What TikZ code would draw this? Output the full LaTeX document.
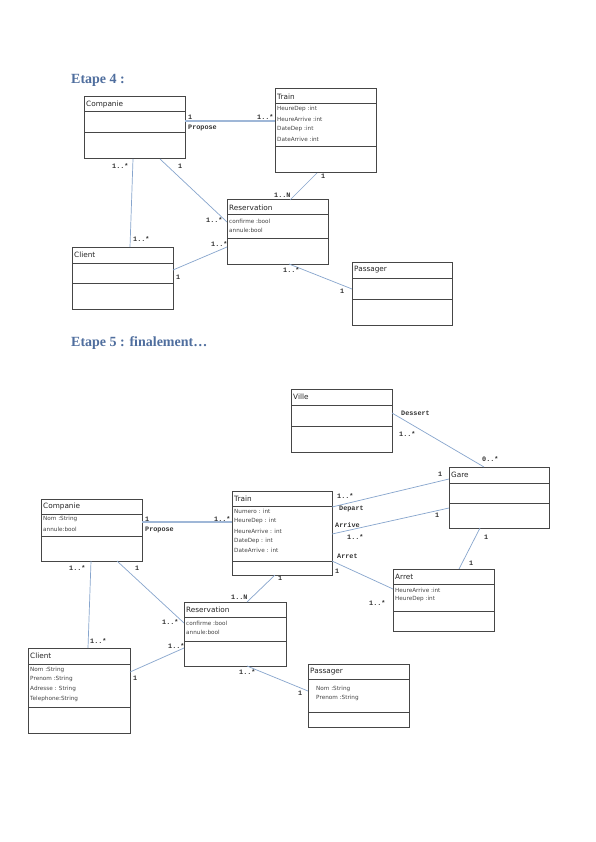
\documentclass[tikz,border=0pt]{standalone}
\usepackage{fontspec}
\setmainfont{DejaVu Sans}
\newfontfamily\titlefont{Liberation Serif}
\newfontfamily\clsfont{DejaVu Sans}
\newfontfamily\multfont{Liberation Mono}
\definecolor{titleblue}{RGB}{79,110,158}
\definecolor{assocblue}{RGB}{135,165,205}
\definecolor{boxgray}{RGB}{70,70,70}
\definecolor{attrgray}{RGB}{70,70,70}
\tikzset{
  clsbox/.style={draw=boxgray, line width=1pt, inner sep=0pt, outer sep=0pt},
  clsline/.style={draw=boxgray, line width=1pt},
  clsname/.style={anchor=west, inner sep=0pt, font=\clsfont\fontsize{7.3}{8}\selectfont, text=black!85},
  attr/.style={anchor=west, inner sep=0pt, font=\clsfont\fontsize{5.7}{6}\selectfont, text=attrgray},
  mult/.style={anchor=west, inner sep=0pt, font=\multfont\bfseries\fontsize{6.8}{7}\selectfont, text=black!80},
  assoc/.style={draw=assocblue, line width=0.7pt},
  assocthick/.style={draw=assocblue!80, line width=1.4pt},
  heading/.style={anchor=base west, inner sep=0pt, font=\titlefont\bfseries\fontsize{14}{16}\selectfont, text=titleblue}
}
\newcommand\umlbox[8]{%
  \pgfmathsetmacro\bw{#4-#2}\pgfmathsetmacro\bh{#5-#3}%
  \node[clsbox, minimum width=\bw pt, minimum height=\bh pt, anchor=north west] (#1) at (#2,#3) {};
  \draw[clsline] (#2,#6) -- (#4,#6);
  \draw[clsline] (#2,#7) -- (#4,#7);
  \node[clsname] (#1-name) at (#2+2,{(#3+#6)/2}) {#8};
}
\begin{document}
\begin{tikzpicture}[x=1pt,y=-1pt]
\useasboundingbox[fill=white] (0,0) rectangle (595,842);

% ---------------- Etape 4 ----------------
\node[heading] (h4) at (71,84) {Etape 4 :};

\umlbox{comp4}{84}{97}{185}{159}{112}{133}{Companie}
\umlbox{train4}{275}{89}{376}{173}{104}{147}{Train}
\node[attr] (t4a1) at (277,109) {HeureDep :int};
\node[attr] (t4a2) at (277,119) {HeureArrive :int};
\node[attr] (t4a3) at (277,129) {DateDep :int};
\node[attr] (t4a4) at (277,139) {DateArrive :int};
\umlbox{res4}{227}{200}{328}{264}{215}{238}{Reservation}
\node[attr] (r4a1) at (229,221) {confirme :bool};
\node[attr] (r4a2) at (229,230) {annule:bool};
\umlbox{client4}{72}{247}{173}{309}{263}{283}{Client}
\umlbox{pass4}{352}{262}{452}{325}{278}{299}{Passager}

\draw[assocthick] (comp4.east |- 0,121) -- (train4.west |- 0,121);
\node[mult] (m4a) at (188,117) {1};
\node[mult] (m4b) at (257,117) {1..*};
\node[mult] (m4c) at (188,128) {Propose};

\draw[assoc] (comp4.south -| 133,0) -- (client4.north -| 130,0);
\node[mult] (m4d) at (112,166) {1..*};
\node[mult] (m4e) at (133,239) {1..*};

\draw[assoc] (comp4.south -| 160,0) -- (res4.west |- 0,222);
\node[mult] (m4f) at (178,166) {1};
\node[mult] (m4g) at (206,220) {1..*};

\draw[assoc] (train4.south -| 317,0) -- (res4.north -| 290,0);
\node[mult] (m4h) at (321,176) {1};
\node[mult] (m4i) at (274,195) {1..N};

\draw[assoc] (client4.east |- 0,270) -- (res4.west |- 0,247);
\node[mult] (m4j) at (211,244) {1..*};
\node[mult] (m4k) at (176,277) {1};

\draw[assoc] (res4.south -| 289,0) -- (pass4.west |- 0,289);
\node[mult] (m4l) at (283,270) {1..*};
\node[mult] (m4m) at (340,291) {1};

% ---------------- Etape 5 ----------------
\node[heading] (h5) at (71,346) {Etape 5 : finalement…};

\umlbox{ville5}{291}{389}{392}{452}{405}{426}{Ville}
\umlbox{gare5}{449}{467}{549}{528}{483}{503}{Gare}
\umlbox{comp5}{41}{499}{142}{561}{514}{536}{Companie}
\node[attr] (c5a1) at (43,519) {Nom :String};
\node[attr] (c5a2) at (43,529) {annule:bool};
\umlbox{train5}{232}{491}{332}{575}{506}{561}{Train}
\node[attr] (t5a1) at (234,511) {Numero : int};
\node[attr] (t5a2) at (234,521) {HeureDep : int};
\node[attr] (t5a3) at (234,531) {HeureArrive : int};
\node[attr] (t5a4) at (234,541) {DateDep : int};
\node[attr] (t5a5) at (234,550) {DateArrive : int};
\umlbox{arret5}{393}{569}{494}{631}{584}{611}{Arret}
\node[attr] (a5a1) at (395,590) {HeureArrive :int};
\node[attr] (a5a2) at (395,599) {HeureDep :int};
\umlbox{res5}{184}{602}{286}{666}{617}{641}{Reservation}
\node[attr] (r5a1) at (186,623) {confirme :bool};
\node[attr] (r5a2) at (186,632) {annule:bool};
\umlbox{client5}{28}{648}{130}{733}{664}{707}{Client}
\node[attr] (cl5a1) at (30,670) {Nom :String};
\node[attr] (cl5a2) at (30,679) {Prenom :String};
\node[attr] (cl5a3) at (30,689) {Adresse : String};
\node[attr] (cl5a4) at (30,699) {Telephone:String};
\umlbox{pass5}{308}{664}{409}{727}{679}{712}{Passager}
\node[attr] (p5a1) at (316,689) {Nom :String};
\node[attr] (p5a2) at (316,698) {Prenom :String};

% Ville - Gare
\draw[assoc] (ville5.east |- 0,413) -- (gare5.north -| 484,0);
\node[mult] (m5a) at (401,413) {Dessert};
\node[mult] (m5b) at (399,434) {1..*};
\node[mult] (m5c) at (482,459) {0..*};

% Train - Gare (Depart)
\draw[assoc] (train5.east |- 0,507) -- (gare5.west |- 0,479);
\node[mult] (m5d) at (337,496) {1..*};
\node[mult] (m5e) at (438,474) {1};
\node[mult] (m5f) at (339,509) {Depart};

% Train - Gare (Arrive)
\draw[assoc] (train5.east |- 0,534) -- (gare5.west |- 0,508);
\node[mult] (m5g) at (335,525) {Arrive};
\node[mult] (m5h) at (435,515) {1};
\node[mult] (m5i) at (347,537) {1..*};

% Train - Arret
\draw[assoc] (train5.east |- 0,561) -- (arret5.west |- 0,589);
\node[mult] (m5j) at (337,556) {Arret};
\node[mult] (m5k) at (335,571) {1};
\node[mult] (m5l) at (369,603) {1..*};

% Gare - Arret
\draw[assoc] (gare5.south -| 480,0) -- (arret5.north -| 459,0);
\node[mult] (m5m) at (484,537) {1};
\node[mult] (m5n) at (469,563) {1};

% Companie - Train
\draw[assocthick] (comp5.east |- 0,522) -- (train5.west |- 0,522);
\node[mult] (m5o) at (145,519) {1};
\node[mult] (m5p) at (214,519) {1..*};
\node[mult] (m5q) at (145,530) {Propose};

% Companie - Client
\draw[assoc] (comp5.south -| 91,0) -- (client5.north -| 88,0);
\node[mult] (m5r) at (69,568) {1..*};
\node[mult] (m5s) at (90,641) {1..*};

% Companie - Reservation
\draw[assoc] (comp5.south -| 117,0) -- (res5.west |- 0,623);
\node[mult] (m5t) at (135,568) {1};
\node[mult] (m5u) at (162,622) {1..*};

% Train - Reservation
\draw[assoc] (train5.south -| 275,0) -- (res5.north -| 247,0);
\node[mult] (m5v) at (278,578) {1};
\node[mult] (m5w) at (231,597) {1..N};

% Client - Reservation
\draw[assoc] (client5.east |- 0,672) -- (res5.west |- 0,648);
\node[mult] (m5x) at (168,646) {1..*};
\node[mult] (m5y) at (133,678) {1};

% Reservation - Passager
\draw[assoc] (res5.south -| 247,0) -- (pass5.west |- 0,691);
\node[mult] (m5z) at (239,672) {1..*};
\node[mult] (m5zz) at (298,693) {1};
\end{tikzpicture}
\end{document}
